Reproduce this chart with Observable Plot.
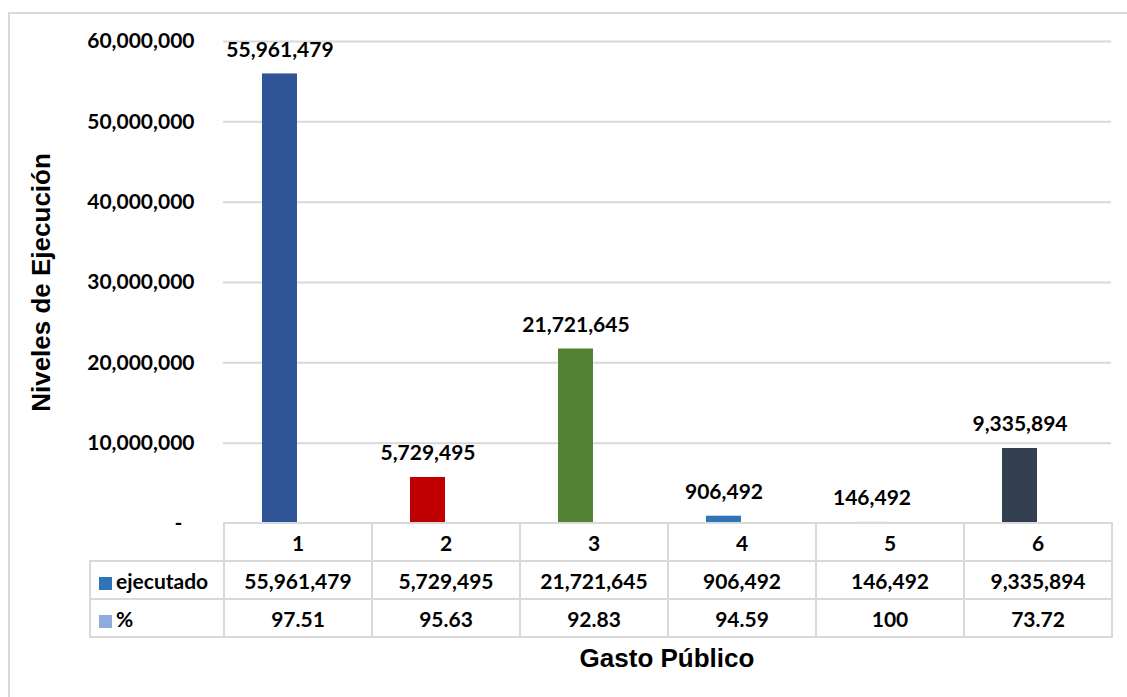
<!DOCTYPE html>
<html>
<head>
<meta charset="utf-8">
<script src="https://cdn.jsdelivr.net/npm/d3@7"></script>
<script src="https://cdn.jsdelivr.net/npm/@observablehq/plot@0.6"></script>
<style>
  html, body { margin: 0; padding: 0; background: #fff; }
  #page { position: relative; width: 1127px; height: 697px; overflow: hidden; font-family: Lato, "Open Sans", sans-serif; }
  #frame { position: absolute; left: 8px; top: 12px; width: 1200px; height: 800px; border: 2px solid #d9d9d9; box-sizing: border-box; }
  #chart { position: absolute; left: 0; top: 0; }
  #chart svg { overflow: visible; }
  g[aria-label="y-axis label"] text { font-family: "Liberation Sans", Arial, sans-serif; font-size: 26px; font-weight: bold; fill: #000; }
  #tbl { position: absolute; left: 89px; top: 522px; border-collapse: collapse; table-layout: fixed; font: bold 21px Lato, sans-serif; color: #000; }
  #tbl td { border: 2px solid #d9d9d9; height: 36px; padding: 0; text-align: center; vertical-align: middle; white-space: nowrap; }
  #tbl td.blank { border-top: none; border-left: none; }
  #tbl td.lab { text-align: left; padding-left: 8px; }
  .sw { display: inline-block; width: 13px; height: 13px; margin-right: 4px; vertical-align: -1px; }
  #xtitle { position: absolute; left: 223px; width: 888px; top: 643px; text-align: center; font: bold 26px "Liberation Sans", Arial, sans-serif; color: #000; line-height: 30px; }
</style>
</head>
<body>
<div id="page">
  <div id="frame"></div>
  <div id="chart"></div>
  <table id="tbl"></table>
  <div id="xtitle"></div>
</div>
<script>
// ---- data ----
const categories = ["1", "2", "3", "4", "5", "6"];
const ejecutado = [55961479, 5729495, 21721645, 906492, 146492, 9335894];
const pct = [97.51, 95.63, 92.83, 94.59, 100, 73.72];
const seriesNames = ["ejecutado", "%"];
const seriesColors = ["#2E75B6", "#8FAADC"];
const barColors = ["#2F5597", "#C00000", "#548235", "#2E75B6", "#A9C4DE", "#333F50"];
const yTicks = [0, 10000000, 20000000, 30000000, 40000000, 50000000, 60000000];
const yTitle = "Niveles de Ejecución";
const xTitle = "Gasto Público";

const fmt = d3.format(",");
const rows = [];
categories.forEach((c, i) => {
  rows.push({cat: c, series: seriesNames[0], value: ejecutado[i], color: barColors[i]});
  rows.push({cat: c, series: seriesNames[1], value: pct[i], color: seriesColors[1]});
});

const chart = Plot.plot({
  width: 1127,
  height: 524,
  marginTop: 41,
  marginBottom: 1,
  marginLeft: 223,
  marginRight: 16,
  style: {fontFamily: "Lato, sans-serif", fontSize: "21px", fontWeight: "bold", color: "#000", background: "transparent"},
  fx: {domain: categories, padding: 0, axis: null},
  x: {domain: seriesNames, paddingInner: 0, paddingOuter: 1.0556, axis: null},
  y: {domain: [0, 60000000]},
  color: {type: "identity"},
  marks: [
    Plot.gridY(yTicks.filter(t => t > 0), {stroke: "#d9d9d9", strokeOpacity: 1, strokeWidth: 2}),
    Plot.barY(rows, {fx: "cat", x: "series", y: "value", fill: "color"}),
    Plot.text(rows.filter(d => d.series === seriesNames[0]), {
      fx: "cat", x: "series", y: "value", text: d => fmt(d.value),
      dy: -24, fontSize: 21, fontWeight: "bold", fill: "#000"
    }),
    Plot.axisY(yTicks, {
      tickSize: 0, tickPadding: 29,
      tickFormat: d => d === 0 ? "-\u2007" : fmt(d),
      fontSize: 21, fontWeight: "bold",
      label: yTitle, labelAnchor: "center", labelOffset: 192, labelArrow: "none"
    })
  ]
});
document.getElementById("chart").appendChild(chart);

// ---- data table under the chart ----
const tbl = document.getElementById("tbl");
const colgroup = document.createElement("colgroup");
const c0 = document.createElement("col"); c0.style.width = "134px"; colgroup.appendChild(c0);
categories.forEach(() => { const c = document.createElement("col"); c.style.width = "148px"; colgroup.appendChild(c); });
tbl.appendChild(colgroup);

const hr = document.createElement("tr");
const blank = document.createElement("td"); blank.className = "blank"; hr.appendChild(blank);
categories.forEach(c => { const td = document.createElement("td"); td.textContent = c; hr.appendChild(td); });
tbl.appendChild(hr);

const seriesValues = [ejecutado.map(v => fmt(v)), pct.map(v => String(v))];
seriesNames.forEach((name, si) => {
  const tr = document.createElement("tr");
  const lab = document.createElement("td"); lab.className = "lab";
  const sw = document.createElement("span"); sw.className = "sw"; sw.style.background = seriesColors[si];
  lab.appendChild(sw); lab.appendChild(document.createTextNode(name));
  tr.appendChild(lab);
  seriesValues[si].forEach(v => { const td = document.createElement("td"); td.textContent = v; tr.appendChild(td); });
  tbl.appendChild(tr);
});

document.getElementById("xtitle").textContent = xTitle;
</script>
</body>
</html>
